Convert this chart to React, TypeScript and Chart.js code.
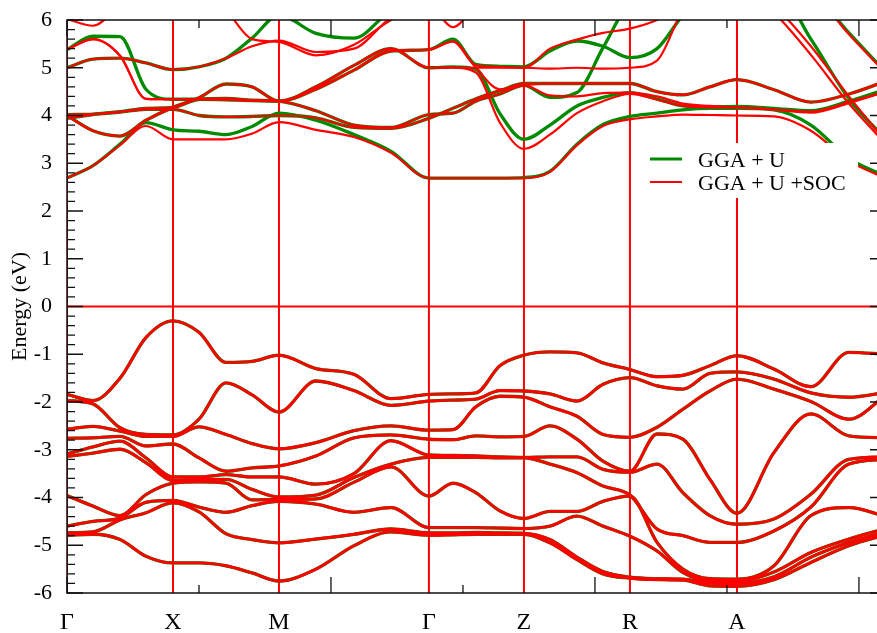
import { useEffect, useRef } from "react";
import { Chart, registerables, type ChartConfiguration, type Plugin } from "chart.js";

Chart.register(...registerables);

// distance along the k-path, one unit = one major x tick of the original axis
const kPoints = [
  0, 0.197, 0.402, 0.598, 0.803, 1.0, 1.205, 1.402, 1.606, 1.886, 2.174, 2.455, 2.742, 2.924, 3.098,
  3.28, 3.462, 3.659, 3.864, 4.061, 4.265, 4.47, 4.667, 4.871, 5.076, 5.356, 5.636, 5.924, 6.205,
];
const kNodes = [0, 0.803, 1.606, 2.742, 3.462, 4.265, 5.076, 6.205];
const kLabels = ["Γ", "X", "M", "Γ", "Z", "R", "A", "X"];

// valence bands (eV), sorted by energy, one value per kPoint
const v1 = [-1.84, -1.97, -1.5, -0.65, -0.3, -0.54, -1.17, -1.15, -1.02, -1.3, -1.42, -1.93, -1.84, -1.83, -1.81, -1.24, -1.02, -0.95, -0.97, -1.18, -1.32, -1.47, -1.44, -1.24, -1.03, -1.31, -1.68, -0.96, -1.0];
const v2 = [-1.97, -2.04, -2.54, -2.68, -2.69, -2.36, -1.6, -1.85, -2.21, -1.56, -1.76, -2.07, -1.98, -1.96, -1.94, -1.76, -1.77, -1.83, -1.98, -1.63, -1.49, -1.66, -1.73, -1.4, -1.37, -1.52, -1.81, -1.9, -1.8];
const v3 = [-2.57, -2.51, -2.61, -2.72, -2.72, -2.52, -2.68, -2.87, -2.98, -2.85, -2.6, -2.5, -2.59, -2.58, -2.1, -1.88, -1.9, -2.1, -2.3, -2.68, -2.74, -2.53, -2.15, -1.77, -1.52, -1.73, -1.99, -2.36, -1.86];
const v4 = [-2.76, -2.75, -2.72, -2.92, -2.88, -3.17, -3.45, -3.38, -3.34, -3.13, -2.75, -2.69, -2.78, -2.79, -2.71, -2.73, -2.72, -2.5, -2.78, -3.24, -3.45, -2.67, -2.78, -3.62, -4.33, -3.06, -2.25, -2.71, -2.75];
const v5 = [-3.09, -2.94, -2.82, -3.17, -3.57, -3.57, -3.52, -3.57, -3.57, -3.72, -3.5, -2.81, -3.11, -3.12, -3.13, -3.15, -3.16, -3.15, -3.15, -3.41, -3.47, -3.3, -3.9, -4.38, -4.56, -4.45, -3.93, -3.2, -3.15];
const v6 = [-3.14, -3.07, -2.99, -3.27, -3.64, -3.62, -3.62, -3.83, -3.99, -3.95, -3.58, -3.3, -3.16, -3.16, -3.16, -3.17, -3.17, -3.3, -3.48, -3.76, -3.95, -4.66, -4.8, -4.94, -4.94, -4.7, -4.2, -3.3, -3.2];
const v7 = [-3.96, -4.18, -4.38, -3.94, -3.7, -3.67, -3.7, -4.05, -4.04, -4.03, -3.68, -3.36, -3.97, -3.7, -3.9, -4.28, -4.44, -4.29, -4.29, -4.08, -3.97, -4.94, -5.5, -5.7, -5.71, -5.43, -4.38, -4.21, -4.4];
const v8 = [-4.6, -4.5, -4.43, -4.1, -4.06, -4.2, -4.31, -4.17, -4.08, -4.14, -4.31, -4.21, -4.63, -4.63, -4.63, -4.64, -4.65, -4.6, -4.39, -4.6, -4.81, -5.12, -5.57, -5.75, -5.76, -5.56, -5.15, -4.87, -4.65];
const v9 = [-4.74, -4.72, -4.47, -4.32, -4.11, -4.3, -4.76, -4.88, -4.95, -4.87, -4.77, -4.66, -4.74, -4.74, -4.73, -4.74, -4.75, -4.88, -5.25, -5.55, -5.67, -5.7, -5.71, -5.79, -5.8, -5.66, -5.25, -4.94, -4.72];
const v10 = [-4.79, -4.77, -4.88, -5.23, -5.37, -5.37, -5.43, -5.58, -5.75, -5.5, -5.01, -4.72, -4.79, -4.78, -4.77, -4.77, -4.77, -4.95, -5.3, -5.6, -5.69, -5.72, -5.73, -5.85, -5.86, -5.72, -5.36, -5.01, -4.78];

// conduction bands, GGA + U (values above 6 leave the plot)
const gCA = [2.69, 2.95, 3.4, 3.85, 3.7, 3.67, 3.6, 3.77, 4.05, 3.9, 3.6, 3.25, 2.69, 2.69, 2.69, 2.69, 2.7, 2.83, 3.4, 3.81, 3.98, 4.05, 4.12, 4.15, 4.15, 4.12, 3.8, 3.1, 2.72];
const gCB = [4.0, 3.68, 3.57, 3.9, 4.17, 4.37, 4.66, 4.6, 4.3, 4.6, 5.05, 5.4, 5.0, 5.02, 4.97, 4.04, 3.5, 3.8, 4.2, 4.38, 4.48, 4.35, 4.2, 4.18, 4.19, 4.15, 4.1, 4.3, 4.55];
const gCC = [3.94, 4.02, 4.07, 4.13, 4.13, 4.0, 3.97, 3.98, 4.0, 3.95, 3.75, 3.73, 3.94, 4.15, 4.35, 4.52, 4.67, 4.67, 4.67, 4.67, 4.67, 4.5, 4.43, 4.6, 4.75, 4.54, 4.28, 4.45, 4.72];
const gCD = [4.02, 4.03, 4.08, 4.15, 4.17, 4.34, 4.36, 4.32, 4.3, 4.1, 3.8, 3.75, 4.02, 4.05, 4.3, 4.45, 4.63, 4.38, 4.48, 5.42, 6.4, 6.8, 6.8, 6.8, 6.8, 6.8, 6.6, 5.73, 4.9];
const gCE = [5.0, 5.18, 5.2, 5.1, 4.96, 5.02, 5.2, 5.62, 6.1, 5.72, 5.62, 6.2, 6.5, 6.5, 6.5, 6.5, 6.5, 6.5, 6.5, 6.5, 6.5, 6.5, 6.5, 6.6, 6.7, 6.7, 5.6, 4.35, 3.5];
const gCF = [5.38, 5.66, 5.65, 4.55, 4.34, 4.34, 4.33, 4.31, 4.3, 4.55, 4.95, 5.35, 5.38, 5.6, 5.07, 5.03, 5.02, 5.35, 5.56, 5.45, 5.21, 5.4, 6.1, 6.6, 6.6, 6.6, 6.6, 6.6, 6.6];

// conduction bands, GGA + U + SOC
const sCA = [2.69, 2.95, 3.38, 3.78, 3.5, 3.5, 3.5, 3.62, 3.86, 3.7, 3.55, 3.22, 2.69, 2.69, 2.69, 2.69, 2.69, 2.82, 3.38, 3.78, 3.92, 3.98, 4.02, 4.01, 4.0, 3.98, 3.68, 3.05, 2.68];
const sCB = [4.0, 3.68, 3.57, 3.9, 4.17, 4.37, 4.66, 4.6, 4.3, 4.6, 5.05, 5.4, 5.0, 5.0, 4.9, 3.85, 3.3, 3.6, 4.05, 4.3, 4.45, 4.33, 4.2, 4.17, 4.17, 4.13, 4.08, 4.28, 4.5];
const sCD = [4.02, 4.03, 4.08, 4.15, 4.17, 4.34, 4.36, 4.32, 4.3, 4.1, 3.8, 3.75, 4.02, 4.05, 4.3, 4.45, 4.63, 4.42, 4.4, 4.47, 4.48, 4.4, 4.25, 4.2, 4.17, 4.12, 4.06, 4.26, 4.5];
const sCE = [5.0, 5.18, 5.2, 5.1, 4.96, 5.02, 5.2, 5.45, 5.57, 5.33, 5.4, 6.05, 6.4, 6.5, 6.5, 6.5, 6.5, 6.5, 6.5, 6.5, 6.5, 6.5, 6.5, 6.6, 6.7, 6.15, 5.27, 4.25, 3.4];
const sCF = [5.38, 5.6, 5.25, 4.35, 4.34, 4.34, 4.33, 4.31, 4.3, 4.55, 4.95, 5.35, 5.38, 5.55, 5.05, 5.02, 5.0, 5.4, 5.59, 5.73, 5.82, 6.0, 6.3, 6.6, 6.6, 6.6, 6.6, 6.6, 6.6];
const sCX = [5.38, 5.6, 5.25, 4.35, 4.34, 4.34, 4.33, 4.31, 4.3, 4.55, 4.95, 5.35, 5.38, 5.55, 5.0, 4.55, 4.63, 4.67, 4.67, 4.67, 4.67, 4.5, 4.43, 4.6, 4.75, 4.54, 4.28, 4.45, 4.72];
const sCY = [4.0, 3.68, 3.57, 3.9, 4.17, 4.37, 4.66, 4.6, 4.3, 4.6, 5.05, 5.4, 5.0, 5.01, 5.0, 5.0, 5.0, 4.98, 5.0, 4.98, 5.0, 5.15, 6.2, 6.6, 6.6, 6.6, 6.6, 6.6, 6.6];
const sCZ = [6.8, 6.8, 6.8, 6.8, 6.8, 6.8, 6.8, 6.8, 6.8, 6.8, 6.8, 6.8, 6.8, 6.8, 6.8, 6.8, 6.8, 6.8, 6.8, 6.8, 6.8, 6.8, 6.8, 6.8, 6.8, 6.3, 5.45, 4.4, 3.45];
const sCW = [6.8, 6.8, 6.8, 6.8, 6.8, 6.8, 6.8, 6.8, 6.8, 6.8, 6.8, 6.8, 6.8, 6.8, 6.8, 6.8, 6.8, 6.8, 6.8, 6.8, 6.8, 6.8, 6.8, 6.8, 6.8, 6.8, 6.6, 5.7, 4.88];
const sTop = [6.02, 5.88, 6.3, 6.6, 6.6, 6.6, 6.2, 5.6, 5.54, 5.26, 5.48, 6.0, 6.3, 5.85, 6.3, 6.6, 6.6, 6.6, 6.6, 6.6, 6.6, 6.6, 6.6, 6.6, 6.6, 6.6, 6.6, 6.6, 6.6];

const valenceBands = [v1, v2, v3, v4, v5, v6, v7, v8, v9, v10];
const gguConduction = [gCA, gCB, gCC, gCD, gCE, gCF];
const socConduction = [sCA, sCB, gCC, sCD, sCE, sCF, sCX, sCY, sCZ, sCW, sTop];

const GREEN = "#008a00";
const RED = "#ff0000";
const SERIF = '"Liberation Serif", "Times New Roman", Times, serif';
const LABEL_GGU = "GGA + U";
const LABEL_SOC = "GGA + U +SOC";

const toPoints = (band: number[]) => band.map((e, i) => ({ x: kPoints[i], y: e }));

const greenSet = (b: number[]) => ({
  label: LABEL_GGU,
  data: toPoints(b),
  borderColor: GREEN,
  borderWidth: 3.3,
  order: 2,
});
const redSet = (b: number[], width: number) => ({
  label: LABEL_SOC,
  data: toPoints(b),
  borderColor: RED,
  borderWidth: width,
  order: 1,
});

// high-symmetry lines, E = 0 line, xmgrace-style inward ticks, and the boxed legend
const bandFrame: Plugin<"line"> = {
  id: "bandFrame",
  beforeDatasetsDraw(chart) {
    const { ctx, chartArea: a } = chart;
    const xs = chart.scales.x;
    const ys = chart.scales.y;
    ctx.save();
    ctx.beginPath();
    ctx.rect(a.left, a.top, a.right - a.left, a.bottom - a.top);
    ctx.clip();
    ctx.strokeStyle = RED;
    ctx.lineWidth = 2;
    for (const k of kNodes) {
      const px = xs.getPixelForValue(k);
      ctx.beginPath();
      ctx.moveTo(px, a.top);
      ctx.lineTo(px, a.bottom);
      ctx.stroke();
    }
    const y0 = ys.getPixelForValue(0);
    ctx.beginPath();
    ctx.moveTo(a.left, y0);
    ctx.lineTo(a.right, y0);
    ctx.stroke();
    ctx.restore();
  },
  afterDatasetsDraw(chart) {
    const { ctx, chartArea: a } = chart;
    const xs = chart.scales.x;
    const ys = chart.scales.y;
    ctx.save();

    // legend box hides the bands behind it
    const items: { label: string; color: string }[] = [];
    chart.data.datasets.forEach((ds: any) => {
      if (!items.some((it) => it.label === ds.label)) {
        items.push({ label: ds.label, color: ds.borderColor });
      }
    });
    items.sort((p, q) => (p.label === LABEL_GGU ? -1 : q.label === LABEL_GGU ? 1 : 0));
    const bx = a.right - 250;
    const by = a.top + 123;
    ctx.fillStyle = "#ffffff";
    ctx.fillRect(bx, by, 222, 55);
    items.forEach((it, i) => {
      const ly = by + 16 + i * 23;
      ctx.strokeStyle = it.color;
      ctx.lineWidth = it.label === LABEL_GGU ? 3 : 2;
      ctx.beginPath();
      ctx.moveTo(bx + 14, ly);
      ctx.lineTo(bx + 46, ly);
      ctx.stroke();
      ctx.fillStyle = "#000000";
      ctx.font = `22px ${SERIF}`;
      ctx.textBaseline = "alphabetic";
      ctx.textAlign = "left";
      ctx.fillText(it.label, bx + 62, ly + 8);
    });

    // frame
    ctx.strokeStyle = "#111111";
    ctx.lineWidth = 1.5;
    ctx.strokeRect(a.left, a.top, a.right - a.left, a.bottom - a.top);

    // y ticks: major every 1 eV, minor every 0.2 eV, on both sides
    ctx.lineWidth = 1.3;
    for (let i = -30; i <= 30; i++) {
      const py = ys.getPixelForValue(i / 5);
      const len = i % 5 === 0 ? 16 : 8;
      ctx.beginPath();
      ctx.moveTo(a.left, py);
      ctx.lineTo(a.left + len, py);
      ctx.moveTo(a.right, py);
      ctx.lineTo(a.right - len, py);
      ctx.stroke();
    }
    // x ticks: major every 2 units, minor in between, top and bottom
    for (let v = 0; v <= 6; v++) {
      const px = xs.getPixelForValue(v);
      const len = v % 2 === 0 ? 16 : 8;
      ctx.beginPath();
      ctx.moveTo(px, a.top);
      ctx.lineTo(px, a.top + len);
      ctx.moveTo(px, a.bottom);
      ctx.lineTo(px, a.bottom - len);
      ctx.stroke();
    }
    ctx.restore();
  },
};

const config: ChartConfiguration<"line"> = {
  type: "line",
  data: {
    datasets: [
      ...valenceBands.map(greenSet),
      ...gguConduction.map(greenSet),
      ...valenceBands.map((b) => redSet(b, 2.9)),
      ...socConduction.map((b) => redSet(b, 2.2)),
    ],
  },
  options: {
    responsive: false,
    animation: false,
    events: [],
    layout: { padding: { left: 0, top: 20, right: 14, bottom: 0 } },
    elements: {
      point: { radius: 0 },
      line: { cubicInterpolationMode: "monotone", fill: false },
    },
    datasets: { line: { clip: 0 } },
    plugins: {
      legend: { display: false },
      tooltip: { enabled: false },
    },
    scales: {
      x: {
        type: "linear",
        min: 0,
        max: kNodes[kNodes.length - 1],
        afterBuildTicks: (s) => {
          s.ticks = kNodes.map((v) => ({ value: v }));
        },
        afterFit: (s) => {
          s.height = 40;
          s.paddingLeft = 0;
          s.paddingRight = 0;
        },
        ticks: {
          autoSkip: false,
          maxRotation: 0,
          padding: 7,
          color: "#000000",
          font: { family: SERIF, size: 24 },
          callback: (_v, i) => kLabels[i],
        },
        grid: { display: false },
        border: { display: false },
      },
      y: {
        type: "linear",
        min: -6,
        max: 6,
        afterFit: (s) => {
          s.width = 67;
          s.paddingTop = 0;
          s.paddingBottom = 0;
        },
        ticks: {
          stepSize: 1,
          padding: 7,
          color: "#000000",
          font: { family: SERIF, size: 22 },
          callback: (v) => String(v),
        },
        title: {
          display: true,
          text: "Energy (eV)",
          color: "#000000",
          font: { family: SERIF, size: 22 },
          padding: { top: 7, bottom: 0 },
        },
        grid: { display: false },
        border: { display: false },
      },
    },
  },
  plugins: [bandFrame],
};

export default function App() {
  const canvasRef = useRef<HTMLCanvasElement>(null);

  useEffect(() => {
    document.body.style.margin = "0";
    if (!canvasRef.current) return;
    const chart = new Chart(canvasRef.current, config);
    return () => chart.destroy();
  }, []);

  return (
    <div style={{ width: 877, height: 633, overflow: "hidden", background: "#ffffff" }}>
      <canvas ref={canvasRef} width={900} height={633} style={{ display: "block" }} />
    </div>
  );
}
